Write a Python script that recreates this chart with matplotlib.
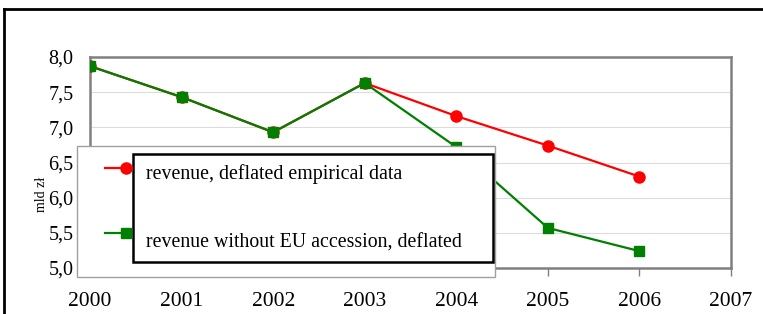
import matplotlib.pyplot as plt
from matplotlib.patches import Rectangle
from matplotlib.lines import Line2D

# data
years = [2000, 2001, 2002, 2003, 2004, 2005, 2006]
revenue_real = [7.87, 7.43, 6.93, 7.63, 7.16, 6.74, 6.30]
revenue_no_eu = [7.87, 7.43, 6.93, 7.63, 6.72, 5.57, 5.24]
xticks = [2000, 2001, 2002, 2003, 2004, 2005, 2006, 2007]
yticks = [5.0, 5.5, 6.0, 6.5, 7.0, 7.5, 8.0]
labels = ["revenue, deflated empirical data", "revenue without EU accession, deflated"]

plt.rcParams['font.family'] = ['Liberation Serif', 'DejaVu Serif']

W, H = 763, 314
fig = plt.figure(figsize=(W / 100, H / 100), dpi=100)
ax = fig.add_axes([90 / W, 1 - 268 / H, (731 - 90) / W, (268 - 57) / H])

ax.plot(years, revenue_real, color='#ff0000', lw=1.6, marker='o', ms=8, zorder=3)
ax.plot(years, revenue_no_eu, color='#008000', lw=1.6, marker='s', ms=7.5, zorder=4)

ax.set_xlim(2000, 2007)
ax.set_ylim(5.0, 8.0)
ax.set_xticks(xticks)
ax.set_xticklabels([str(x) for x in xticks], fontsize=15.5)
ax.set_yticks(yticks)
ax.set_yticklabels([f"{v:.1f}".replace('.', ',') for v in yticks], fontsize=14.5)
ax.tick_params(axis='x', length=6, width=1, color='#808080', pad=11, direction='out')
ax.tick_params(axis='y', length=0, pad=12)
ax.grid(axis='y', color='#dcdcdc', lw=0.8)
ax.set_axisbelow(True)
for s in ax.spines.values():
    s.set_color('#808080')
    s.set_linewidth(1.8)
ax.set_ylabel("mld zł", fontsize=10)
ax.yaxis.set_label_coords(-0.066, 0.35)

# outer frame (top and left edges visible)
fig.add_artist(Line2D([4 / W, 4 / W], [0, 1 - 9 / H], transform=fig.transFigure, color='black', lw=2))
fig.add_artist(Line2D([4 / W, 1], [1 - 9 / H, 1 - 9 / H], transform=fig.transFigure, color='black', lw=2))

# legend drawn by hand
fig.add_artist(Rectangle((77 / W, 1 - 277 / H), (495 - 77) / W, (277 - 146) / H,
                         transform=fig.transFigure, facecolor='white', edgecolor='#a0a0a0', lw=1, zorder=5))
fig.add_artist(Rectangle((133 / W, 1 - 262 / H), (493 - 133) / W, (262 - 154) / H,
                         transform=fig.transFigure, facecolor='white', edgecolor='black', lw=1.8, zorder=6))
for y, c, m, ms, lab, ty in [(168, '#ff0000', 'o', 8, labels[0], 174),
                            (233, '#008000', 's', 7.5, labels[1], 243)]:
    fig.add_artist(Line2D([105 / W, 126 / W], [1 - y / H, 1 - y / H], transform=fig.transFigure,
                          color=c, lw=1.6, zorder=7))
    fig.add_artist(Line2D([126 / W], [1 - y / H], transform=fig.transFigure, color=c,
                          marker=m, ms=ms, lw=0, zorder=7))
    fig.text(146 / W, 1 - ty / H, lab, fontsize=14.3, va='center', ha='left', zorder=8)

fig.savefig("out.png", dpi=100)
